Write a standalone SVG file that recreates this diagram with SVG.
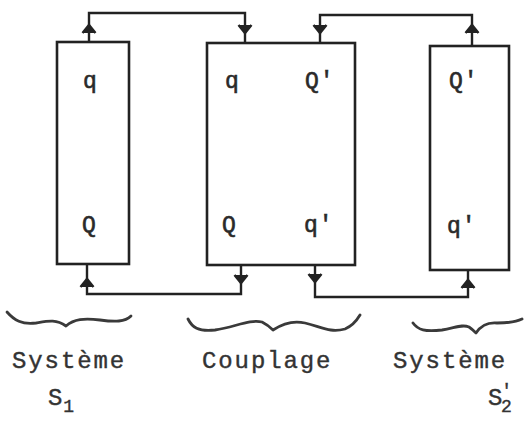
<svg xmlns="http://www.w3.org/2000/svg" xmlns:xlink="http://www.w3.org/1999/xlink" width="524" height="430" viewBox="0 0 524 430">
<style>
.box{fill:none;stroke:#222;stroke-width:2.6}
.wire{fill:none;stroke:#222;stroke-width:2.4;stroke-linejoin:miter}
.ah{fill:#222;stroke:#222;stroke-width:2.4;stroke-linejoin:miter}
.brace{fill:none;stroke:#3a3a3a;stroke-width:2.8;stroke-linecap:round;stroke-linejoin:round}
.lbl{font-family:"Liberation Mono","DejaVu Sans Mono",monospace;font-size:23px;fill:#2a2a2a;stroke:#2a2a2a;stroke-width:0.6;letter-spacing:1px}
.cap{font-family:"Liberation Mono","DejaVu Sans Mono",monospace;font-size:24px;fill:#333;stroke:#333;stroke-width:0.4;letter-spacing:1.9px}
</style>
<defs>
<path id="up" d="M-6.5,8 L0,0 L6.5,8 M-2,4 L0,0 L2,4 Z" class="ah"/>
</defs>
<rect width="524" height="430" fill="#fff"/>
<g id="connectors">
<path class="wire" d="M89,42 V13 H245 V43"/>
<path class="wire" d="M320,43 V15 H472 V47"/>
<path class="wire" d="M87,264 V294 H241 V265"/>
<path class="wire" d="M315,265 V297 H468 V270"/>
<use xlink:href="#up" transform="translate(89,25)"/>
<use xlink:href="#up" transform="translate(245,33) rotate(180)"/>
<use xlink:href="#up" transform="translate(320,33) rotate(180)"/>
<use xlink:href="#up" transform="translate(472,25)"/>
<use xlink:href="#up" transform="translate(87,279)"/>
<use xlink:href="#up" transform="translate(241,283) rotate(180)"/>
<use xlink:href="#up" transform="translate(315,282) rotate(180)"/>
<use xlink:href="#up" transform="translate(468,280)"/>
</g>
<g id="S1">
<rect class="box" x="57" y="42" width="72" height="222"/>
<text class="lbl" x="83" y="88">q</text>
<text class="lbl" x="82" y="232">Q</text>
</g>
<g id="couplage">
<rect class="box" x="207" y="43" width="148" height="222"/>
<text class="lbl" x="225" y="88">q</text>
<text class="lbl" x="305" y="88">Q'</text>
<text class="lbl" x="222" y="232">Q</text>
<text class="lbl" x="304" y="232">q'</text>
</g>
<g id="S2p">
<rect class="box" x="430" y="46" width="79" height="224"/>
<text class="lbl" x="449" y="88">Q'</text>
<text class="lbl" x="447" y="233">q'</text>
</g>
<g id="braces">
<path class="brace" d="M7,312 C14,320 22,325 36,323 C48,321 56,319 66,326 C74,319 84,318 100,320 C115,322 125,322 131,316"/>
<path class="brace" d="M188,319 C192,327 198,332 215,330 C235,327 250,319 262,322 C268,325 271,328 273,330 C282,324 292,320 305,323 C322,327 330,333 345,329 C352,326 357,320 360,315"/>
<path class="brace" d="M413,323 C418,330 425,332 442,330 C455,328 462,324 469,327 C472,329 474,331 476,333 C480,327 486,322 497,323 C508,323 516,322 522,319"/>
</g>
<g id="captions">
<text class="cap" x="12" y="368">Système</text>
<text class="cap" x="202" y="368">Couplage</text>
<text class="cap" x="393" y="368">Système</text>
<text class="cap" x="48" y="405">S<tspan font-size="18" dy="7" dx="-1">1</tspan></text>
<text class="cap" x="488" y="405">S<tspan font-size="18" dy="-9" dx="-3">'</tspan><tspan font-size="18" dy="16" dx="-13">2</tspan></text>
</g>
</svg>
